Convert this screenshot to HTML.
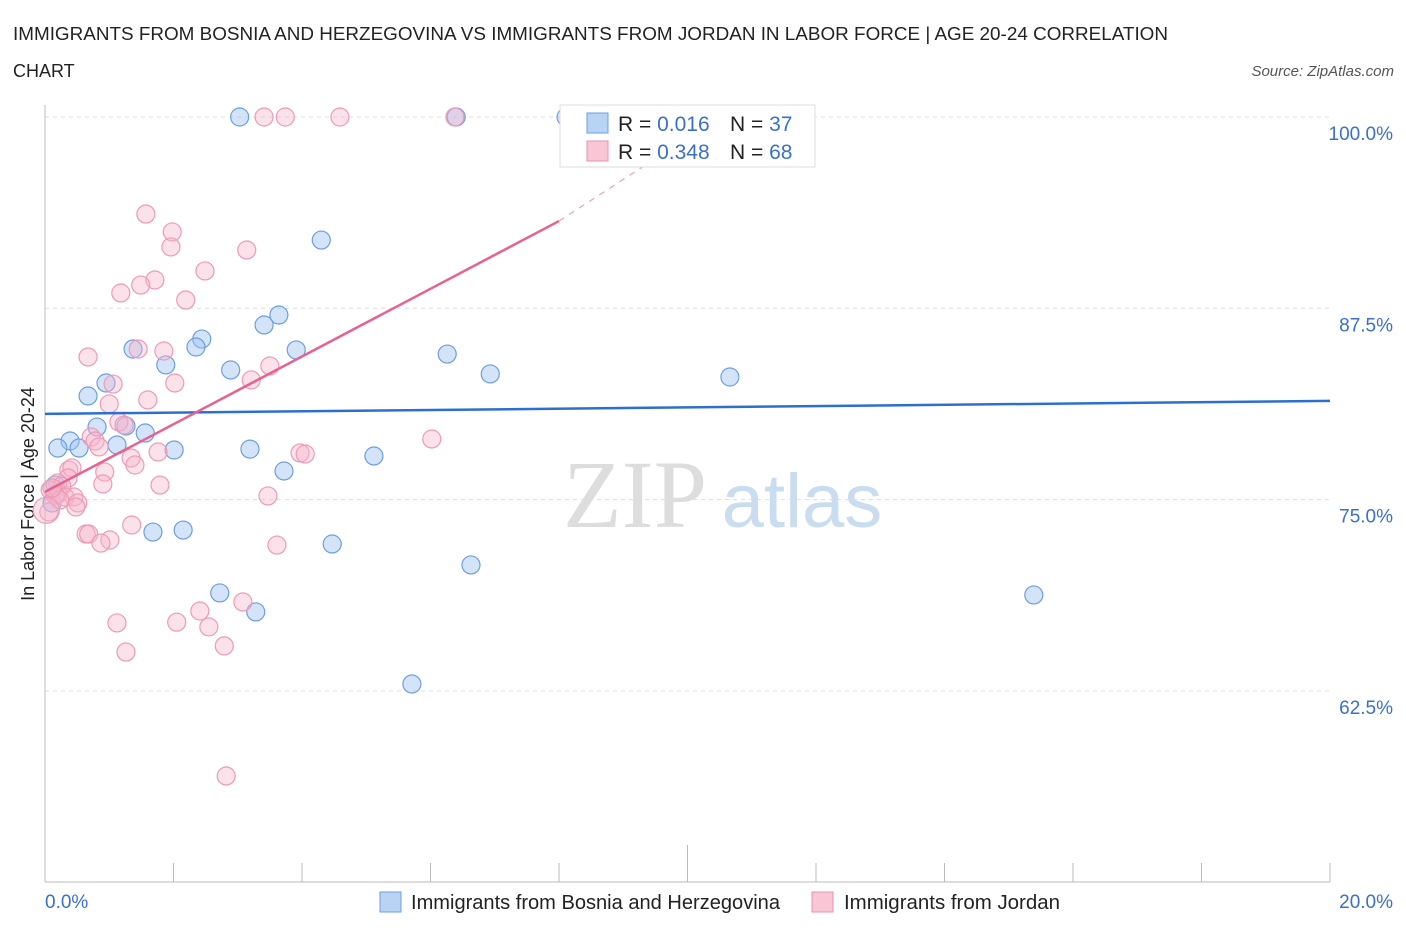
<!DOCTYPE html>
<html><head><meta charset="utf-8"><style>
body{margin:0;background:#fff;}
svg{display:block;font-family:"Liberation Sans",sans-serif;}
</style></head><body>
<svg id="chart" width="1406" height="930" viewBox="0 0 1406 930">
<text x="13" y="40" font-size="18" fill="#222" textLength="1155" lengthAdjust="spacingAndGlyphs">IMMIGRANTS FROM BOSNIA AND HERZEGOVINA VS IMMIGRANTS FROM JORDAN IN LABOR FORCE | AGE 20-24 CORRELATION</text>
<text x="13" y="77" font-size="18" fill="#222">CHART</text>
<text x="1394" y="76" font-size="15" fill="#555" font-style="italic" text-anchor="end">Source: ZipAtlas.com</text>
<text x="0" y="0" transform="translate(34,494) rotate(-90)" font-size="18" fill="#222" text-anchor="middle">In Labor Force | Age 20-24</text>
<g>
<text x="635" y="527" font-size="96" fill="#ddd" font-family="Liberation Serif,serif" text-anchor="middle">ZIP</text>
<text x="802" y="527" font-size="76" fill="#c9dcf0" text-anchor="middle">atlas</text>
</g>
<g id="grid"></g>
<g id="axes"></g>
<g id="points"></g>
<g id="trends"></g>
<g>
<rect x="560" y="105" width="255" height="62" fill="#fff" stroke="#ddd"/>
<rect x="587" y="113" width="21" height="20" fill="#b9d3f5" stroke="#6d9ee0"/>
<rect x="587" y="141" width="21" height="20" fill="#f9c6d6" stroke="#e991ad"/>
<text x="618" y="131" font-size="21" fill="#222">R = <tspan fill="#3a70c8">0.016</tspan></text>
<text x="730" y="131" font-size="21" fill="#222">N = <tspan fill="#3a70c8">37</tspan></text>
<text x="618" y="159" font-size="21" fill="#222">R = <tspan fill="#3a70c8">0.348</tspan></text>
<text x="730" y="159" font-size="21" fill="#222">N = <tspan fill="#3a70c8">68</tspan></text>
</g>
<g>
<rect x="380" y="892" width="21" height="20" fill="#b9d3f5" stroke="#6d9ee0"/>
<text x="411" y="909" font-size="20" fill="#222" textLength="369" lengthAdjust="spacingAndGlyphs">Immigrants from Bosnia and Herzegovina</text>
<rect x="812" y="892" width="21" height="20" fill="#f9c6d6" stroke="#e991ad"/>
<text x="844" y="909" font-size="20" fill="#222" textLength="216" lengthAdjust="spacingAndGlyphs">Immigrants from Jordan</text>
</g>
</svg>
<script>
const yTicks=[100,87.5,75,62.5];
const yTickLabels=["100.0%","87.5%","75.0%","62.5%"];
const xEndLabels=["0.0%","20.0%"];
const blueX=[3.03,6.40,8.11,4.30,3.64,3.41,2.44,2.35,1.37,3.91,6.26,1.88,2.89,6.93,10.66,0.95,0.67,0.81,1.26,1.56,0.39,0.20,0.53,1.12,2.01,3.19,5.12,3.72,0.16,0.11,1.68,2.15,4.47,6.63,2.72,3.28,15.39,5.71];
const blueY=[100,100,100,91.96,87.06,86.41,85.49,84.97,84.84,84.78,84.51,83.80,83.47,83.21,83.01,82.62,81.77,79.74,79.81,79.35,78.83,78.37,78.37,78.57,78.24,78.30,77.85,76.87,75.95,74.78,72.88,73.01,72.10,70.73,68.90,67.66,68.77,62.95];
const pinkX=[3.41,3.74,4.59,6.38,1.57,1.98,1.96,3.14,2.49,1.71,1.49,1.18,2.19,0.67,1.45,1.85,3.50,1.06,2.02,3.21,1.00,1.60,1.15,1.23,6.02,0.72,0.78,0.84,1.76,3.97,4.05,1.34,1.40,0.37,0.42,0.93,0.36,0.20,0.26,0.90,1.79,0.08,0.20,0.45,0.31,0.51,0.48,3.47,0.06,1.35,0.64,0.68,1.01,0.87,3.61,2.41,1.12,2.05,2.55,3.08,2.79,1.26,2.82,0.16,0.23,0.11,0.02];
const pinkY=[100,100,100,100,93.66,92.49,91.51,91.31,89.94,89.35,89.02,88.50,88.04,84.32,84.84,84.71,83.73,82.55,82.62,82.82,81.25,81.51,80.07,79.87,78.96,79.09,78.83,78.44,78.11,78.05,77.98,77.72,77.26,76.93,77.07,76.80,76.41,76.09,75.89,76.02,75.95,75.63,75.37,75.17,75.17,74.78,74.52,75.24,74.19,73.34,72.75,72.75,72.36,72.16,72.03,67.72,66.94,66.99,66.68,68.31,65.44,65.04,56.94,75.30,74.97,75.76,74.30];
const blueTrend=[0,80.6,20,81.45];
const pinkTrend=[0,75.5,8,93.2];
const pinkTrendExt=[8,93.2,10.5,100];

const NS="http://www.w3.org/2000/svg";
const X0=45,X1=1330,Y100=117,YB=882;
function sx(v){return X0+(v/20)*(X1-X0);}
function sy(v){return Y100+(100-v)/12.5*191.3;}
function mk(tag,attrs,parent){const e=document.createElementNS(NS,tag);for(const k in attrs)e.setAttribute(k,attrs[k]);parent.appendChild(e);return e;}
const grid=document.getElementById('grid'),axes=document.getElementById('axes'),pts=document.getElementById('points'),tr=document.getElementById('trends');
yTicks.forEach((t,i)=>{
 const l=mk('line',{x1:X0,x2:X1,y1:sy(t),y2:sy(t),stroke:'#ddd','stroke-dasharray':'4,4'},grid);
 
 
 const tx=mk('text',{x:1393,y:sy(t)+23,'font-size':19,fill:'#3a70c8','text-anchor':'end'},axes);
 tx.textContent=yTickLabels[i];
 
 
});
let a=mk('line',{x1:X0,x2:X0,y1:105,y2:YB,stroke:'#bbb'},axes);


a=mk('line',{x1:X0,x2:X1,y1:YB,y2:YB,stroke:'#bbb'},axes);


for(let i=0;i<=10;i++){
 const x=sx(i*2);
 const t=mk('line',{x1:x,x2:x,y1:i==5?845:863,y2:YB,stroke:'#bbb'},axes);
 
 
}
[[0,45,'start'],[20,1393,'end']].forEach((d,i)=>{
 const t=mk('text',{x:d[1],y:908,'font-size':19,fill:'#3a70c8','text-anchor':d[2]},axes);
 t.textContent=xEndLabels[i];
 
 
});
blueX.forEach((v,i)=>{
 const c=mk('circle',{cx:sx(v),cy:sy(blueY[i]),r:9,fill:'rgba(160,196,240,0.45)',stroke:'#6d9ee0','stroke-width':1.2},pts);
 
 
});
pinkX.forEach((v,i)=>{
 const c=mk('circle',{cx:sx(v),cy:sy(pinkY[i]),r:i==pinkX.length-1?13:9,fill:'rgba(246,180,202,0.4)',stroke:'#ee9ab5','stroke-width':1.2},pts);
 
 
});
let l=mk('line',{x1:sx(blueTrend[0]),y1:sy(blueTrend[1]),x2:sx(blueTrend[2]),y2:sy(blueTrend[3]),stroke:'#2d6fd0','stroke-width':2.5},tr);


l=mk('line',{x1:sx(pinkTrend[0]),y1:sy(pinkTrend[1]),x2:sx(pinkTrend[2]),y2:sy(pinkTrend[3]),stroke:'#e8628f','stroke-width':2.5},tr);


l=mk('line',{x1:sx(pinkTrendExt[0]),y1:sy(pinkTrendExt[1]),x2:sx(pinkTrendExt[2]),y2:sy(pinkTrendExt[3]),stroke:'#eea0b8','stroke-width':1.2,'stroke-dasharray':'6,6'},tr);


</script>
</body></html>
